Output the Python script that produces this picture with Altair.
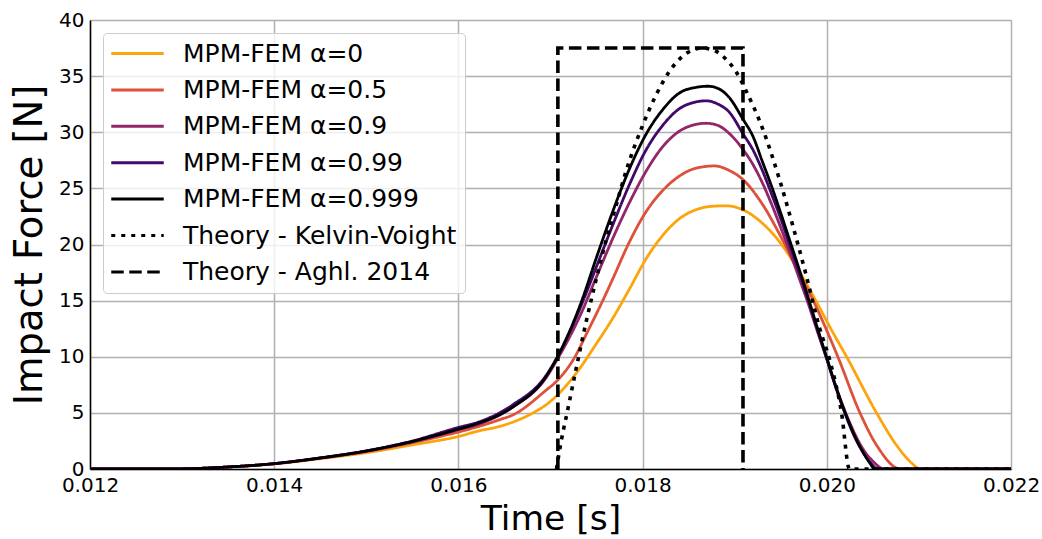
import altair as alt
import pandas as pd

# ---- data (time in s, force in N) ----
series_names = ["MPM-FEM α=0", "MPM-FEM α=0.5", "MPM-FEM α=0.9", "MPM-FEM α=0.99",
                "MPM-FEM α=0.999", "Theory - Kelvin-Voight", "Theory - Aghl. 2014"]
series_colors = ["#fca50a", "#dd513a", "#932667", "#420a68", "#000004", "#000000", "#000000"]
series_dashes = [[1, 0], [1, 0], [1, 0], [1, 0], [1, 0], [4, 6], [12.5, 5.5]]

t_a0 = [0.0120, 0.0130, 0.0135, 0.0140, 0.0145, 0.0150, 0.0155, 0.0160, 0.016225, 0.01645, 0.01681,
        0.016949, 0.017076, 0.017312, 0.017493, 0.017674, 0.017855, 0.018036, 0.018217, 0.0184,
        0.01858, 0.01875, 0.0189, 0.019087, 0.0193, 0.0195, 0.0197, 0.01988, 0.02005, 0.020215,
        0.02054, 0.02075, 0.0209, 0.02102, 0.0220]
f_a0 = [0, 0.02, 0.17, 0.45, 0.92, 1.45, 2.15, 2.9, 3.4, 3.8, 5.0,
        5.7, 6.6, 8.9, 11.1, 13.4, 16.0, 18.7, 20.8, 22.3,
        23.1, 23.4, 23.45, 23.1, 21.9, 20.1, 17.6, 15.0, 12.4, 10.0,
        5.0, 2.2, 0.7, 0, 0]

t_a05 = [0.0120, 0.0130, 0.0135, 0.0140, 0.0145, 0.0150, 0.0155, 0.0160, 0.016225, 0.01645, 0.016587,
         0.016949, 0.017076, 0.017266, 0.0174, 0.01755, 0.017674, 0.017855, 0.018036, 0.018217,
         0.0184, 0.01858, 0.01878, 0.01894, 0.019087, 0.0193, 0.01952, 0.01968, 0.01987, 0.02012,
         0.02036, 0.02055, 0.0208, 0.0220]
f_a05 = [0, 0.02, 0.18, 0.47, 0.96, 1.55, 2.35, 3.3, 3.8, 4.4, 4.8,
         7.0, 7.9, 10.0, 12.2, 14.7, 16.9, 20.2, 22.9, 24.8,
         26.1, 26.8, 27.0, 26.6, 25.8, 23.6, 20.4, 17.8, 14.7, 10.0,
         5.0, 2.0, 0, 0]

t_a09 = [0.0120, 0.0130, 0.0135, 0.0140, 0.0145, 0.0150, 0.0155, 0.0160, 0.016225, 0.016587, 0.016949,
         0.017076, 0.01734, 0.017493, 0.017674, 0.017855, 0.018036, 0.018217, 0.0184, 0.01858,
         0.01869, 0.01882, 0.01894, 0.019087, 0.0192, 0.0193, 0.0194, 0.0195, 0.0196, 0.0197,
         0.0198, 0.0199, 0.0200, 0.0201, 0.0202, 0.0203, 0.0204, 0.0205, 0.02062, 0.0220]
f_a09 = [0, 0.02, 0.18, 0.48, 0.98, 1.6, 2.42, 3.5, 4.0, 5.5, 8.1,
         9.8, 14.0, 17.0, 20.5, 23.7, 26.5, 28.7, 30.1, 30.7,
         30.8, 30.6, 29.9, 28.5, 27.1, 25.5, 23.6, 21.5, 19.3, 17.0,
         14.7, 12.2, 9.8, 7.3, 5.1, 3.2, 1.7, 0.7, 0, 0]

t_a099 = [0.0120, 0.0130, 0.0135, 0.0140, 0.0145, 0.0150, 0.0155, 0.0160, 0.016225, 0.016587, 0.016949,
          0.017076, 0.01734, 0.017493, 0.017674, 0.017855, 0.018036, 0.018217, 0.0184, 0.01858,
          0.01869, 0.01882, 0.01894, 0.019087, 0.0192, 0.0193, 0.0194, 0.0195, 0.0196, 0.0197,
          0.0198, 0.0199, 0.0200, 0.0201, 0.0202, 0.0203, 0.0204, 0.02048, 0.02055, 0.0220]
f_a099 = [0, 0.02, 0.18, 0.48, 0.99, 1.62, 2.5, 3.7, 4.2, 5.7, 8.3,
          10.0, 14.7, 17.9, 21.7, 25.3, 28.4, 30.6, 32.1, 32.7,
          32.8, 32.5, 31.8, 29.9, 28.4, 26.6, 24.5, 22.3, 19.9, 17.5,
          15.0, 12.4, 9.8, 7.2, 4.9, 2.9, 1.4, 0.5, 0, 0]

t_a0999 = [0.0120, 0.0130, 0.0135, 0.0140, 0.0145, 0.0150, 0.0155, 0.0160, 0.016225, 0.016587, 0.016949,
           0.017076, 0.01734, 0.017493, 0.017674, 0.017855, 0.018036, 0.018217, 0.0184, 0.01858,
           0.018707, 0.01882, 0.01894, 0.019087, 0.0192, 0.0193, 0.0194, 0.0195, 0.0196, 0.0197,
           0.0198, 0.0199, 0.0200, 0.0201, 0.0202, 0.0203, 0.0204, 0.02047, 0.02052, 0.0220]
f_a0999 = [0, 0.02, 0.18, 0.48, 0.98, 1.6, 2.45, 3.55, 4.1, 5.5, 8.2,
           10.0, 15.0, 18.7, 22.9, 26.7, 29.8, 32.0, 33.5, 34.0,
           34.1, 33.9, 33.1, 31.2, 29.6, 27.4, 25.2, 22.8, 20.3, 17.8,
           15.2, 12.5, 9.9, 7.3, 5.0, 3.0, 1.4, 0.5, 0, 0]

t_kv = [0.017065, 0.017112, 0.017185, 0.017275, 0.017384, 0.017493, 0.017601, 0.01771,
        0.017819, 0.0180, 0.018145, 0.01829, 0.018471, 0.01865, 0.0188, 0.018906, 0.019014,
        0.019123, 0.019304, 0.019486, 0.01963, 0.019775, 0.01992, 0.020035, 0.02016, 0.020246, 0.0220]
f_kv = [0, 2.3, 5.2, 8.8, 13.0, 16.8, 20.3, 23.4,
        26.5, 30.6, 33.3, 35.4, 37.0, 37.5, 37.2, 36.5, 35.4,
        33.7, 30.3, 25.8, 21.7, 17.3, 12.6, 9.6, 5.0, 0, 0]

t_aghl = [0.01708, 0.01708, 0.01909, 0.01909]
f_aghl = [0, 37.5, 37.5, 0]

x_ticks = [0.012, 0.014, 0.016, 0.018, 0.020, 0.022]
y_ticks = [0, 5, 10, 15, 20, 25, 30, 35, 40]

series_t = [t_a0, t_a05, t_a09, t_a099, t_a0999, t_kv, t_aghl]
series_f = [f_a0, f_a05, f_a09, f_a099, f_a0999, f_kv, f_aghl]

rows = []
for name, ts, fs in zip(series_names, series_t, series_f):
    for i, (t, f) in enumerate(zip(ts, fs)):
        rows.append({"series": name, "t": t, "f": f, "idx": i})
df = pd.DataFrame(rows)

FONT = "DejaVu Sans"

legend = alt.Legend(
    title=None, orient="none", legendX=13, legendY=13,
    symbolType="M-2.5,0L2.5,0", symbolSize=441, symbolStrokeWidth=3,
    symbolOffset=14, labelOffset=33,
    labelFontSize=25, labelFont=FONT, labelColor="black", labelLimit=500,
    rowPadding=10.4, padding=8,
    fillColor="rgba(255,255,255,0.8)", strokeColor="#cccccc", cornerRadius=4,
)

color = alt.Color("series:N", scale=alt.Scale(domain=series_names, range=series_colors), legend=legend)
dash = alt.StrokeDash("series:N", scale=alt.Scale(domain=series_names, range=series_dashes), legend=legend)

x = alt.X("t:Q", scale=alt.Scale(domain=[0.012, 0.022], nice=False, zero=False),
          axis=alt.Axis(values=x_ticks, format=".3f", title="Time [s]", titleFontSize=34.5,
                        titleFont=FONT, titleFontWeight="normal", titleColor="black",
                        labelFontSize=20, labelFont=FONT, labelColor="black", labelPadding=6,
                        labelFlush=False, labelOverlap=False, ticks=False, grid=True,
                        gridColor="#b0b0b0", gridWidth=1.5, domainColor="black", domainWidth=1.5,
                        titlePadding=7))
y = alt.Y("f:Q", scale=alt.Scale(domain=[0, 40], nice=False),
          axis=alt.Axis(values=y_ticks, title="Impact Force [N]", titleFontSize=38.5,
                        titleFont=FONT, titleFontWeight="normal", titleColor="black",
                        labelFontSize=20, labelFont=FONT, labelColor="black", labelPadding=6,
                        labelOverlap=False, ticks=False, grid=True,
                        gridColor="#b0b0b0", gridWidth=1.5, domainColor="black", domainWidth=1.5,
                        titlePadding=9))

base = alt.Chart(df)
layers = []
for name in series_names:
    theory = name.startswith("Theory")
    interp = "linear" if "Aghl" in name else "monotone"
    layer = base.transform_filter(alt.datum.series == name).mark_line(
        strokeWidth=3.6 if theory else 2.8, clip=True, interpolate=interp
    ).encode(x=x, y=y, color=color, strokeDash=dash, order=alt.Order("idx:Q"))
    layers.append(layer)

chart = alt.layer(*layers).properties(
    width=921, height=449,
    autosize=alt.AutoSizeParams(type="none"),
    padding={"left": 90, "top": 20, "right": 31, "bottom": 70},
).configure_view(stroke="black", strokeWidth=1.5).configure(background="white")

chart.save("out.html", embed_options={"renderer": "svg", "actions": False})
